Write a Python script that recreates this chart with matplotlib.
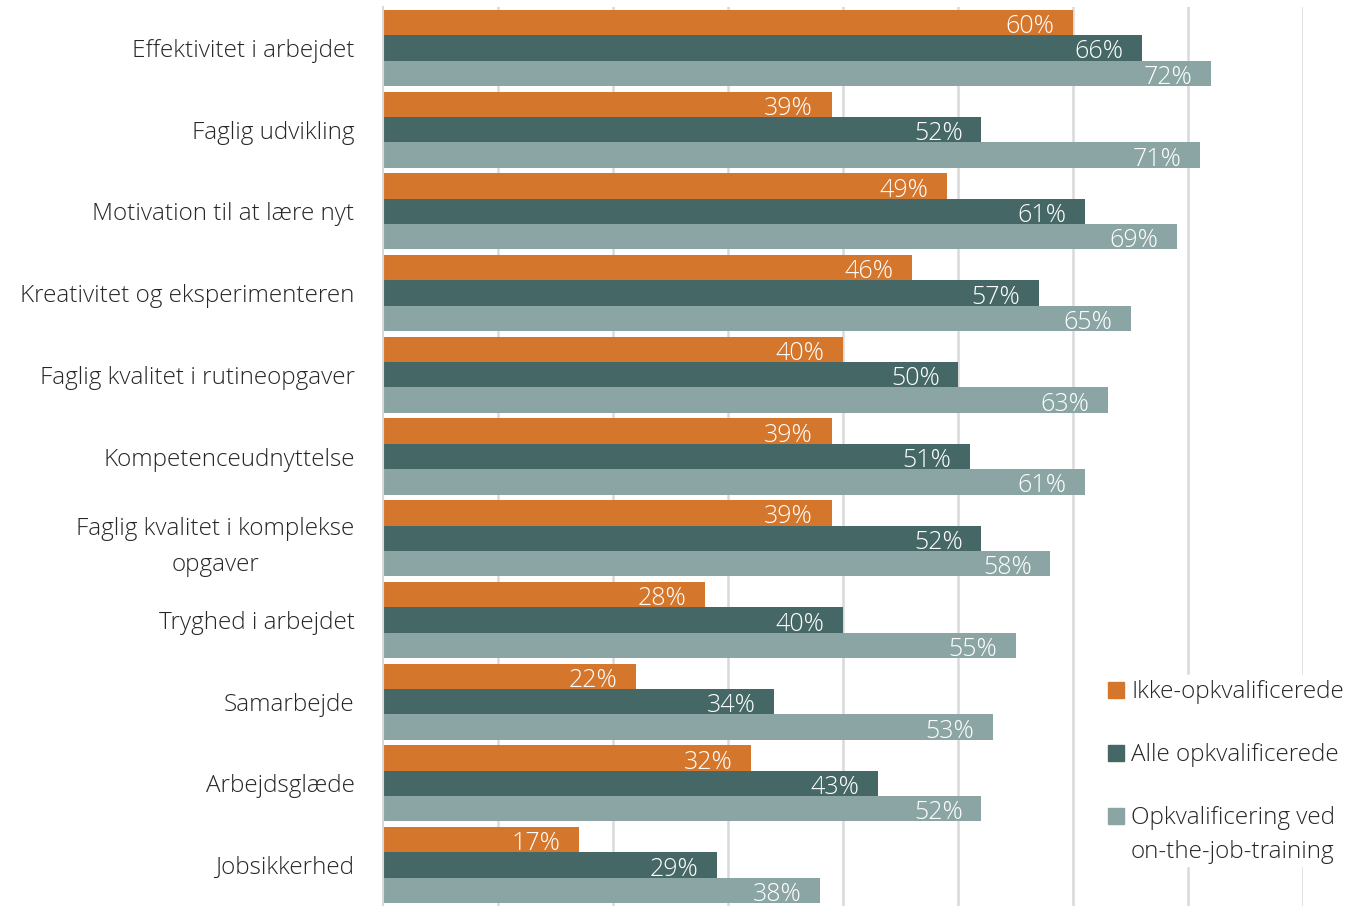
import numpy as np
import matplotlib.pyplot as plt
from matplotlib.patches import Rectangle

plt.rcParams['font.family'] = ['Open Sans', 'DejaVu Sans']

categories = ["Effektivitet i arbejdet", "Faglig udvikling", "Motivation til at lære nyt",
              "Kreativitet og eksperimenteren", "Faglig kvalitet i rutineopgaver",
              "Kompetenceudnyttelse", "Faglig kvalitet i komplekse\nopgaver",
              "Tryghed i arbejdet", "Samarbejde", "Arbejdsglæde", "Jobsikkerhed"]
ikke_opkval = [60, 39, 49, 46, 40, 39, 39, 28, 22, 32, 17]
alle_opkval = [66, 52, 61, 57, 50, 51, 52, 40, 34, 43, 29]
on_the_job = [72, 71, 69, 65, 63, 61, 58, 55, 53, 52, 38]
series_names = ["Ikke-opkvalificerede", "Alle opkvalificerede",
                "Opkvalificering ved\non-the-job-training"]
colors = ["#D5762D", "#456866", "#8AA5A3"]

W, H = 1354, 906
fig = plt.figure(figsize=(W / 100, H / 100), dpi=100)
ax = fig.add_axes([383 / W, 0.0, (1303 - 383) / W, 1 - 7 / H])

y = np.arange(len(categories))
h = 0.31
for k, vals in enumerate([ikke_opkval, alle_opkval, on_the_job]):
    v = np.array(vals) / 100
    pos = y + (k - 1) * h
    ax.barh(pos, v, height=h, color=colors[k], zorder=2)
    for yy, vv, lab in zip(pos, v, vals):
        ax.text(vv - 0.016, yy + 0.05, f"{lab}%", ha="right", va="center",
                color="white", fontsize=18, fontweight="light", zorder=3)

ax.set_xlim(0, 0.8)
ax.set_ylim(len(categories) - 0.5, -0.5)
ax.set_xticks(np.arange(0.1, 0.81, 0.1))
ax.xaxis.grid(True, color="#D9D9D9", linewidth=1.8, zorder=0)
ax.set_axisbelow(True)
ax.tick_params(axis="x", bottom=False, labelbottom=False)
ax.tick_params(axis="y", left=False, pad=17)
ax.set_yticks(y)
ax.set_yticklabels(categories, fontsize=17.5, color="#262626", fontweight="light",
                   multialignment="center", linespacing=1.65)
for s in ["top", "right", "bottom"]:
    ax.spines[s].set_visible(False)
ax.spines["left"].set_color("#D9D9D9")
ax.spines["left"].set_linewidth(1.5)

# legend box drawn by hand so the handle sits on the first text line
fig.patches.append(Rectangle((1100 / W, 1 - 866 / H), 254 / W, 191 / H,
                             transform=fig.transFigure, color="white", zorder=5))
leg_y = [690, 753, 816]
for k in range(3):
    fig.patches.append(Rectangle((1108 / W, 1 - (leg_y[k] + 8) / H), 16 / W, 16 / H,
                                 transform=fig.transFigure, color=colors[k], zorder=6))
    fig.text(1131 / W, 1 - (leg_y[k] - 10) / H, series_names[k], fontsize=17.5,
             color="#262626", fontweight="light", va="top", ha="left",
             linespacing=1.55, zorder=7)

fig.savefig("out.png", dpi=100)
